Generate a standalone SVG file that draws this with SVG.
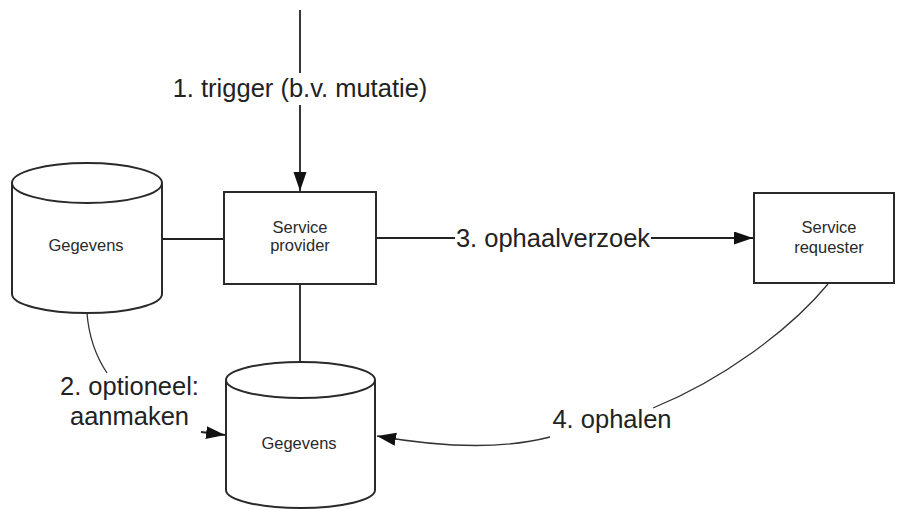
<svg xmlns="http://www.w3.org/2000/svg" width="897" height="510" viewBox="0 0 897 510">
<style>
.shape{fill:#fff;stroke:#2a2a2a;stroke-width:2}
.node{font-family:"Liberation Sans",Arial,sans-serif;font-size:16.5px;fill:#2a2a2a;text-anchor:middle}
.lbl{font-family:"Liberation Sans",Arial,sans-serif;font-size:25.5px;fill:#222;text-anchor:middle}
.line{fill:none;stroke:#222;stroke-width:1.8}
.curve{fill:none;stroke:#333;stroke-width:1.3}
</style>
<defs>
<marker id="arr" markerUnits="userSpaceOnUse" markerWidth="20" markerHeight="14" refX="19" refY="6.5" orient="auto">
<path d="M0,0 L19,6.5 L0,13 z" fill="#111"/>
</marker>
</defs>
<rect width="897" height="510" fill="#fff"/>
<g id="connectors">
<line class="line" x1="300" y1="10" x2="300" y2="73"/>
<line class="line" x1="300" y1="105" x2="300" y2="191" marker-end="url(#arr)"/>
<line class="line" x1="162" y1="239" x2="224" y2="239"/>
<line class="line" x1="376" y1="238" x2="455" y2="238"/>
<line class="line" x1="651" y1="238" x2="753" y2="238" marker-end="url(#arr)"/>
<line class="line" x1="300" y1="284" x2="300" y2="362"/>
<path class="curve" d="M87,313 C89,340 97,358 107,373"/>
<line class="line" x1="201" y1="432" x2="225" y2="435" marker-end="url(#arr)"/>
<path class="curve" d="M828,284 C790,330 722,380 653,408"/>
<path class="curve" d="M550,437 C500,450 440,447 377,436" marker-end="url(#arr)"/>
<text class="lbl" x="300" y="97">1. trigger (b.v. mutatie)</text>
<text class="lbl" x="553" y="247">3. ophaalverzoek</text>
<text class="lbl" x="129.5" y="395">2. optioneel:</text>
<text class="lbl" x="129.5" y="425">aanmaken</text>
<text class="lbl" x="612" y="428">4. ophalen</text>
</g>
<g id="gegevens-top">
<path class="shape" d="M12,183 L12,294 A75,19 0 0 0 162,294 L162,183"/>
<ellipse class="shape" cx="87" cy="183" rx="75" ry="20"/>
<text class="node" x="86" y="251">Gegevens</text>
</g>
<g id="service-provider">
<rect class="shape" x="224" y="192" width="152" height="92"/>
<text class="node" x="300" y="233">Service</text>
<text class="node" x="300" y="251">provider</text>
</g>
<g id="service-requester">
<rect class="shape" x="754" y="193" width="140" height="90"/>
<text class="node" x="829" y="233">Service</text>
<text class="node" x="829" y="253">requester</text>
</g>
<g id="gegevens-bottom">
<path class="shape" d="M226,380 L226,490 A74.5,18 0 0 0 375,490 L375,380"/>
<ellipse class="shape" cx="300.5" cy="380" rx="74.5" ry="18"/>
<text class="node" x="299" y="449">Gegevens</text>
</g>
</svg>
